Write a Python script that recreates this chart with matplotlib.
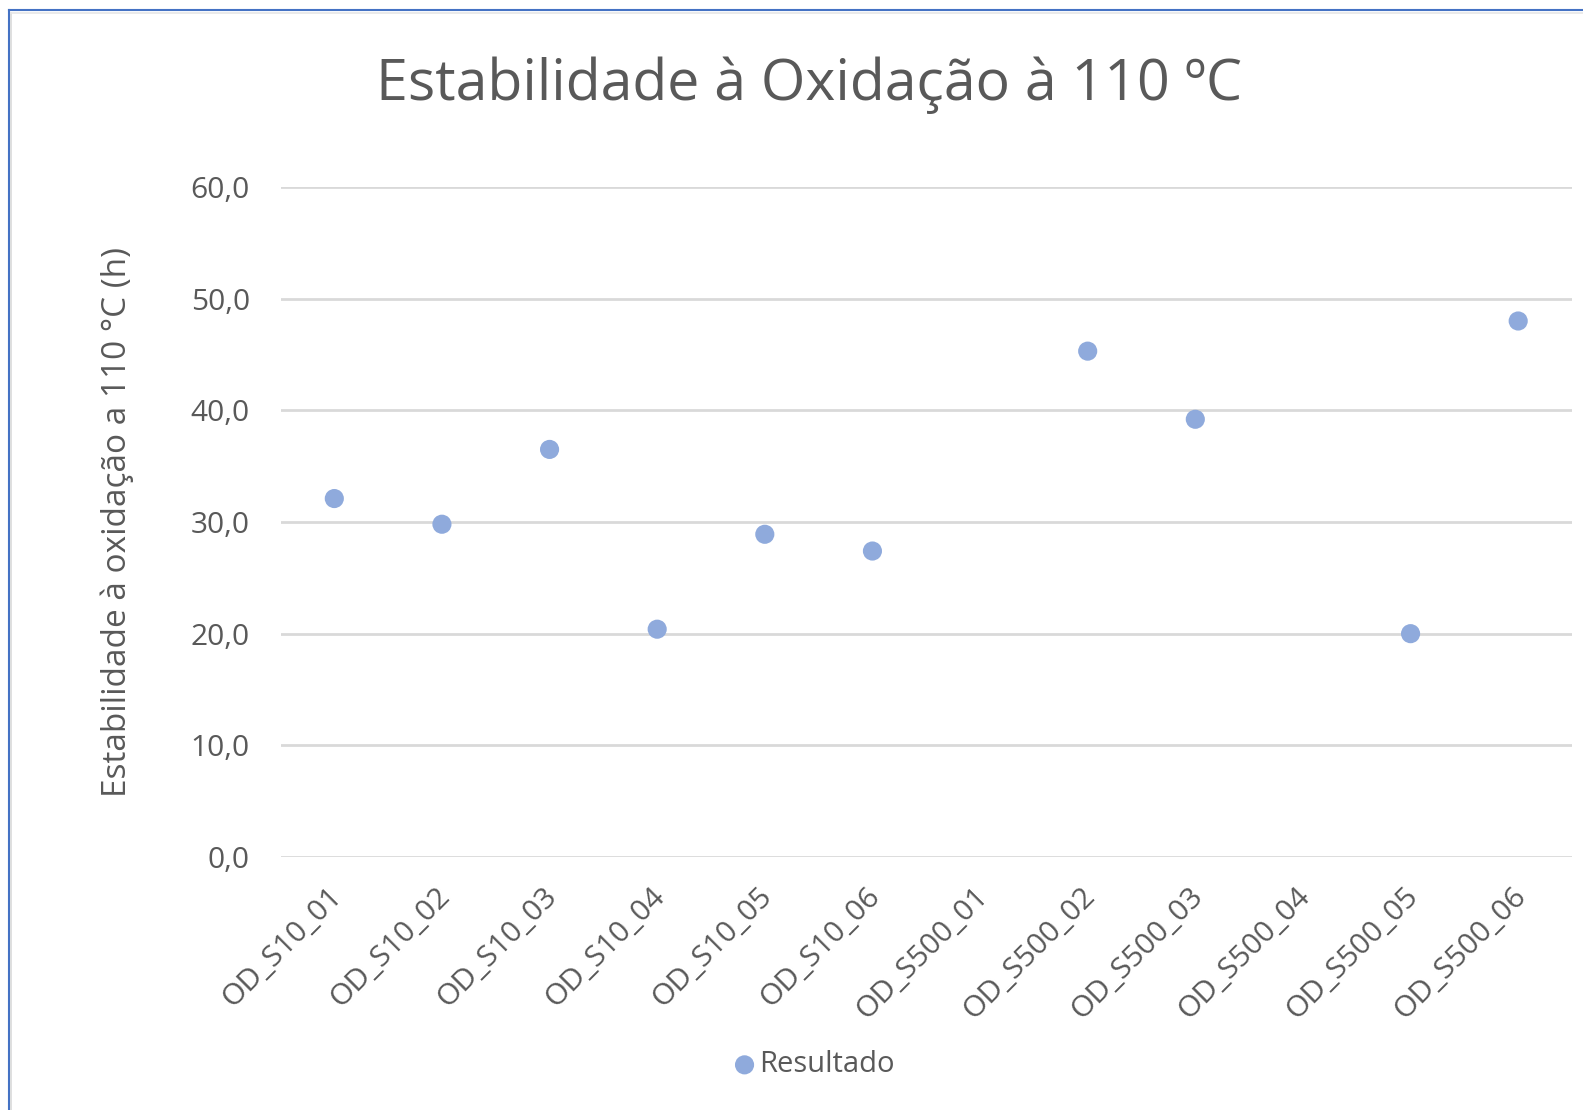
import matplotlib
matplotlib.use("Agg")
import matplotlib.pyplot as plt
from matplotlib.lines import Line2D
from matplotlib.transforms import ScaledTranslation
import numpy as np

categories = ["OD_S10_01", "OD_S10_02", "OD_S10_03", "OD_S10_04", "OD_S10_05", "OD_S10_06",
              "OD_S500_01", "OD_S500_02", "OD_S500_03", "OD_S500_04", "OD_S500_05", "OD_S500_06"]
resultado = [32.1, 29.8, 36.5, 20.4, 28.9, 27.4, np.nan, 45.3, 39.2, np.nan, 20.0, 48.0]
y_ticks = [0, 10, 20, 30, 40, 50, 60]
y_tick_labels = ["0,0", "10,0", "20,0", "30,0", "40,0", "50,0", "60,0"]

plt.rcParams['font.family'] = ['Open Sans', 'DejaVu Sans']
text_color = "#595959"
W, H = 1583, 1110
fig = plt.figure(figsize=(W / 100, H / 100), dpi=100)
fig.patch.set_facecolor("white")

ax = fig.add_axes([280.5 / W, 1 - 857 / H, (1572 - 280.5) / W, (857 - 187) / H])
x = np.arange(len(categories))
ax.scatter(x, resultado, s=190, color="#8FAADC", edgecolors="none", zorder=3, label="Resultado")
ax.set_xlim(-0.5, len(categories) - 0.5)
ax.set_ylim(0, 60)
ax.set_yticks(y_ticks)
ax.set_yticklabels(y_tick_labels)
ax.set_xticks(x)
ax.set_xticklabels(categories, rotation=45, ha="right", rotation_mode="anchor")
ax.tick_params(axis="both", length=0, labelsize=21.5, colors=text_color)
ax.tick_params(axis="y", pad=22)
ax.tick_params(axis="x", pad=18)
offset = ScaledTranslation(-7 / 100, 0, fig.dpi_scale_trans)
for lbl in ax.get_xticklabels():
    lbl.set_transform(lbl.get_transform() + offset)
ax.grid(axis="y", color="#D9D9D9", linewidth=2)
ax.set_axisbelow(True)
for s in ax.spines.values():
    s.set_visible(False)

ax.set_ylabel("Estabilidade à oxidação a 110 °C (h)", fontsize=24, color=text_color, labelpad=41)
fig.text(809 / W, 1 - 85 / H, "Estabilidade à Oxidação à 110 ºC", ha="center", va="center",
         fontsize=41.2, color=text_color)

leg = fig.legend(loc="center", bbox_to_anchor=(805 / W, 1 - 1065 / H), frameon=False,
                 fontsize=21, handletextpad=-0.5, markerscale=1.0, labelcolor=text_color)

# outer border (blue, left and top)
fig.add_artist(Line2D([8.5 / W, 8.5 / W], [0, 1 - 10 / H], color="#4472C4", lw=1.5, transform=fig.transFigure))
fig.add_artist(Line2D([8.5 / W, 1], [1 - 10 / H, 1 - 10 / H], color="#4472C4", lw=1.5, transform=fig.transFigure))
fig.add_artist(Line2D([11 / W, 11 / W], [0, 1 - 12.5 / H], color="#D9D9D9", lw=1.2, transform=fig.transFigure))
fig.add_artist(Line2D([11 / W, 1], [1 - 12.5 / H, 1 - 12.5 / H], color="#E6E6E6", lw=1.2, transform=fig.transFigure))

fig.savefig("out.png", dpi=100)
